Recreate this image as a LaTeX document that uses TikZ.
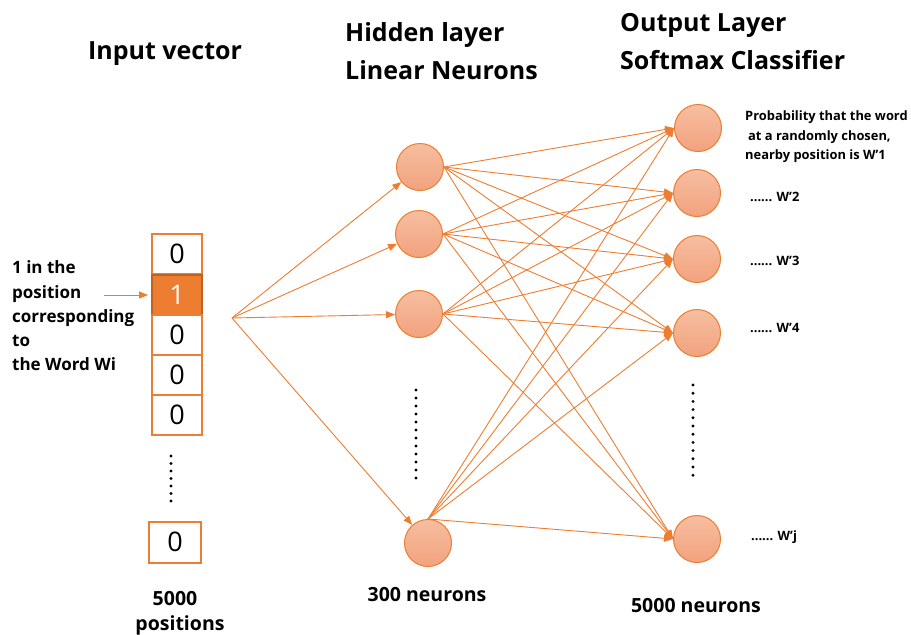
\documentclass[tikz,border=0pt]{standalone}
\usepackage{fontspec}
\setmainfont{Open Sans}
\usetikzlibrary{arrows.meta}
\definecolor{org}{HTML}{ED7D31}
\definecolor{orgdark}{HTML}{C0611E}
\definecolor{nTop}{HTML}{F6BEA0}
\definecolor{nBot}{HTML}{F2A27E}
\begin{document}
\begin{tikzpicture}[x=1pt,y=-1pt,
  neuron/.style={circle, draw=org, line width=1pt, minimum size=47pt, inner sep=0pt, top color=nTop, bottom color=nBot},
  cell/.style={draw=org, line width=2pt, minimum width=50pt, minimum height=40pt, inner sep=0pt, font=\fontsize{27}{27}\selectfont},
  hot/.style={cell, fill=org, draw=orgdark, text=white},
  conn/.style={draw=org, line width=0.9pt, -{Triangle[length=9pt,width=7pt]}},
  title/.style={anchor=base west, inner sep=0pt, font=\bfseries\fontsize{25}{25}\selectfont},
  side/.style={anchor=base west, inner sep=0pt, font=\bfseries\fontsize{17}{17}\selectfont},
  small/.style={anchor=base west, inner sep=0pt, font=\bfseries\fontsize{12.9}{12.9}\selectfont},
  foot/.style={anchor=base, inner sep=0pt, font=\bfseries\fontsize{19.5}{19.5}\selectfont},
  dot/.style={fill=black, draw=none}
]
\useasboundingbox (0,0) rectangle (911,635);

% titles
\node[title] (tin) at (88,59) {Input vector};
\node[title] (th1) at (345,41) {Hidden layer};
\node[title] (th2) at (345,79) {Linear Neurons};
\node[title] (to1) at (620,31) {Output Layer};
\node[title] (to2) at (620,69) {Softmax Classifier};

% input vector
\node[cell] (c1) at (177,254) {0};
\node[hot]  (c2) at (177,295) {1};
\node[cell] (c3) at (177,335) {0};
\node[cell] (c4) at (177,375) {0};
\node[cell] (c5) at (177,415) {0};
\node[cell, minimum width=52pt, minimum height=41pt] (c6) at (175,542) {0};
\foreach \i in {0,...,6} \fill[dot] (171,{456+7.5*\i}) circle (1.6);

% side label
\node[side] (s1) at (12,273) {1 in the};
\node[side] (s2) at (12,298) {position};
\node[side] (s3) at (12,322) {corresponding};
\node[side] (s4) at (12,346) {to};
\node[side] (s5) at (12,370) {the Word Wi};
\coordinate (la) at (104,295);
\draw[conn] (la) -- ([xshift=-3pt]c2.west);

% hidden
\node[neuron] (h1) at (420,167) {};
\node[neuron] (h2) at (419,234) {};
\node[neuron] (h3) at (419,314) {};
\node[neuron] (h4) at (428,543) {};
\foreach \i in {0,...,11} \fill[dot] (416,{390+8*\i}) circle (1.6);

% output
\node[neuron] (o1) at (698,128) {};
\node[neuron] (o2) at (697,193) {};
\node[neuron] (o3) at (697,259) {};
\node[neuron] (o4) at (697,333) {};
\node[neuron] (o5) at (697,539) {};
\foreach \i in {0,...,11} \fill[dot] (693,{385+8.2*\i}) circle (1.6);

% connections input -> hidden
\coordinate (src) at (232,318);
\foreach \h in {h1,h2,h3,h4} \draw[conn] (src) -- (\h);

% hidden -> output
\foreach \h in {h1,h2,h3}
  \foreach \o in {o1,o2,o3,o4,o5}
    \draw[conn] (\h.east) -- (\o.west);
\foreach \o in {o1,o2,o3,o4,o5}
  \draw[conn] (h4.north) -- (\o.west);

% output labels
\node[small] (p1) at (745,120) {Probability that the word};
\node[small] (p2) at (748,140) {at a randomly chosen,};
\node[small] (p3) at (745,159) {nearby position is W’1};
\node[small] (w2) at (750,201) {...... W’2};
\node[small] (w3) at (750,265) {...... W’3};
\node[small] (w4) at (750,332) {...... W’4};
\node[small] (wj) at (751,540) {...... W’j};

% footers
\node[foot] (f1) at (175,605) {5000};
\node[foot] (f2) at (180,630) {positions};
\node[foot] (f3) at (427,601) {300 neurons};
\node[foot] (f4) at (696,612) {5000 neurons};
\end{tikzpicture}
\end{document}
